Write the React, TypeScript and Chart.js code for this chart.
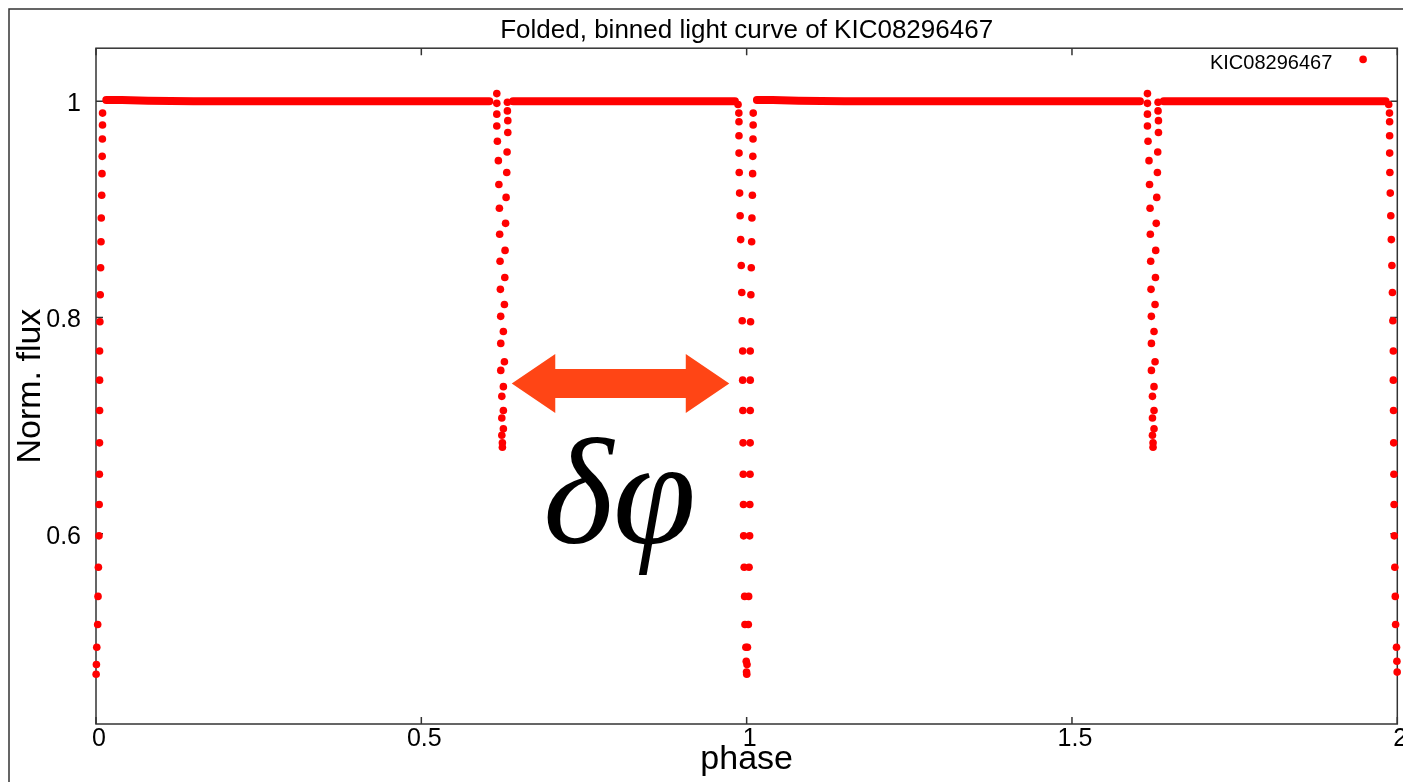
import React, { useEffect, useRef } from 'react';
import { Chart, registerables } from 'chart.js';

Chart.register(...registerables);

const FONT = '"Liberation Sans", Arial, Helvetica, sans-serif';

// ---- text ----
const chartTitle = 'Folded, binned light curve of KIC08296467';
const seriesName = 'KIC08296467';
const xTitle = 'phase';
const yTitle = 'Norm. flux';
const symbolText = 'δφ';

// ---- axes ----
const xTicks = [0, 0.5, 1, 1.5, 2];
const yTicks = [0.6, 0.8, 1];
const xRange = [0, 2];
const yRange = [0.424, 1.049];

// the folded cycle is shown twice: phase and phase + 1
const cycles = [0, 1];

// out-of-eclipse bins (very dense, they merge into a continuous band)
const baselinePhaseA = [0.0158, 0.04, 0.08, 0.15, 0.25, 0.35, 0.45, 0.55, 0.6045];
const baselineFluxA = [1.001, 1.001, 1.0005, 1.0, 1.0, 1.0, 1.0, 1.0, 1.0];
const baselinePhaseB = [0.641, 0.7, 0.8, 0.9, 0.95, 0.982];
const baselineFluxB = [1.0, 1.0, 1.0, 1.0, 1.0, 1.0];

// primary eclipse, egress (just after phase 0)
const primaryEgressPhase = [0.0101, 0.01, 0.0098, 0.0095, 0.0092, 0.0088, 0.0081, 0.0077, 0.0071, 0.0065, 0.006, 0.0055, 0.0055, 0.0055, 0.0054, 0.0052, 0.0049, 0.0046, 0.0037, 0.0031, 0.0026, 0.0012, 0.0006, 0.0002];
const primaryEgressFlux = [0.989, 0.978, 0.965, 0.949, 0.933, 0.913, 0.892, 0.87, 0.846, 0.821, 0.796, 0.769, 0.742, 0.714, 0.684, 0.655, 0.627, 0.598, 0.569, 0.542, 0.516, 0.495, 0.479, 0.47];

// secondary eclipse
const secondaryIngressPhase = [0.616, 0.616, 0.616, 0.616, 0.6169, 0.6184, 0.6192, 0.62, 0.6204, 0.621, 0.6215, 0.622, 0.6221, 0.6221, 0.6237, 0.6237, 0.6237, 0.6246];
const secondaryIngressFlux = [1.007, 0.998, 0.988, 0.977, 0.963, 0.945, 0.923, 0.901, 0.877, 0.852, 0.826, 0.801, 0.776, 0.751, 0.727, 0.707, 0.691, 0.68];
const secondaryEgressPhase = [0.6323, 0.6323, 0.6329, 0.6329, 0.6318, 0.6313, 0.6303, 0.6295, 0.6287, 0.6283, 0.6277, 0.6261, 0.6277, 0.6261, 0.6261, 0.6261, 0.6246];
const secondaryEgressFlux = [0.999, 0.991, 0.982, 0.971, 0.953, 0.934, 0.911, 0.887, 0.862, 0.837, 0.812, 0.787, 0.759, 0.736, 0.714, 0.697, 0.684];

// primary eclipse, ingress (just before phase 1)
const primaryIngressPhase = [0.9868, 0.988, 0.9882, 0.9882, 0.9883, 0.9886, 0.9892, 0.99, 0.9908, 0.9917, 0.9925, 0.9932, 0.9939, 0.9939, 0.9942, 0.9945, 0.9948, 0.9951, 0.9954, 0.9962, 0.9969, 0.9974, 0.9988, 0.9994, 0.9998];
const primaryIngressFlux = [0.997, 0.989, 0.981, 0.968, 0.952, 0.934, 0.915, 0.894, 0.872, 0.848, 0.823, 0.797, 0.769, 0.742, 0.714, 0.684, 0.655, 0.627, 0.598, 0.569, 0.542, 0.516, 0.495, 0.482, 0.472];

// annotation: double arrow and δφ label (data units)
const arrowFromPhase = 0.639;
const arrowToPhase = 0.9733;
const arrowFlux = 0.739;
const symbolPhase = 0.8046;
const symbolFlux = 0.5917;

const RED = '#ff0000';
const ARROW = '#ff4515';
const FRAME = '#333333';

type Pt = { x: number; y: number | null };

function foldedPoints(phase: number[], flux: number[]): Pt[] {
  const pts: Pt[] = [];
  for (const c of cycles) {
    for (let i = 0; i < phase.length; i++) pts.push({ x: phase[i] + c, y: flux[i] });
  }
  return pts;
}

function baselinePoints(): Pt[] {
  const pts: Pt[] = [];
  for (const c of cycles) {
    for (let i = 0; i < baselinePhaseA.length; i++) pts.push({ x: baselinePhaseA[i] + c, y: baselineFluxA[i] });
    pts.push({ x: 0.62 + c, y: null });
    for (let i = 0; i < baselinePhaseB.length; i++) pts.push({ x: baselinePhaseB[i] + c, y: baselineFluxB[i] });
    pts.push({ x: 0.99 + c, y: null });
  }
  return pts;
}

const framePlugin = {
  id: 'gnuplotFrame',
  beforeDatasetsDraw(chart: any) {
    const { ctx, chartArea } = chart;
    const { left, right, top, bottom } = chartArea;
    const xs = chart.scales.x;
    const ys = chart.scales.y;
    ctx.save();
    ctx.strokeStyle = FRAME;
    ctx.lineWidth = 1.5;
    // outer figure border (left and top edges visible)
    ctx.beginPath();
    ctx.moveTo(9, chart.height);
    ctx.lineTo(9, 9);
    ctx.lineTo(chart.width, 9);
    ctx.stroke();
    // plot border
    ctx.strokeRect(left, top, right - left, bottom - top);
    // inward ticks, mirrored
    ctx.beginPath();
    for (const v of xTicks) {
      const px = xs.getPixelForValue(v);
      ctx.moveTo(px, bottom);
      ctx.lineTo(px, bottom - 7);
      ctx.moveTo(px, top);
      ctx.lineTo(px, top + 7);
    }
    for (const v of yTicks) {
      const py = ys.getPixelForValue(v);
      ctx.moveTo(left, py);
      ctx.lineTo(left + 7, py);
      ctx.moveTo(right, py);
      ctx.lineTo(right - 7, py);
    }
    ctx.stroke();
    ctx.restore();
  },
};

const annotationPlugin = {
  id: 'annotations',
  afterDatasetsDraw(chart: any) {
    const { ctx, chartArea } = chart;
    const xs = chart.scales.x;
    const ys = chart.scales.y;
    ctx.save();
    // double arrow
    const xa = xs.getPixelForValue(arrowFromPhase);
    const xb = xs.getPixelForValue(arrowToPhase);
    const ya = ys.getPixelForValue(arrowFlux);
    const headLen = 43.5;
    const headHalf = 29.5;
    const shaftHalf = 14.5;
    ctx.fillStyle = ARROW;
    ctx.beginPath();
    ctx.moveTo(xa, ya);
    ctx.lineTo(xa + headLen, ya - headHalf);
    ctx.lineTo(xa + headLen, ya - shaftHalf);
    ctx.lineTo(xb - headLen, ya - shaftHalf);
    ctx.lineTo(xb - headLen, ya - headHalf);
    ctx.lineTo(xb, ya);
    ctx.lineTo(xb - headLen, ya + headHalf);
    ctx.lineTo(xb - headLen, ya + shaftHalf);
    ctx.lineTo(xa + headLen, ya + shaftHalf);
    ctx.lineTo(xa + headLen, ya + headHalf);
    ctx.closePath();
    ctx.fill();

    // δφ label
    ctx.fillStyle = '#000';
    ctx.font = 'italic 150px "Liberation Serif", "DejaVu Serif", serif';
    ctx.textAlign = 'center';
    ctx.textBaseline = 'alphabetic';
    ctx.fillText(symbolText, xs.getPixelForValue(symbolPhase), ys.getPixelForValue(symbolFlux));

    // key (gnuplot style: text then sample point)
    ctx.font = '20px ' + FONT;
    ctx.textAlign = 'right';
    ctx.fillText(seriesName, chartArea.right - 65, chartArea.top + 20.3);
    ctx.fillStyle = RED;
    ctx.beginPath();
    ctx.arc(chartArea.right - 34.2, chartArea.top + 11.2, 3.8, 0, Math.PI * 2);
    ctx.fill();
    ctx.restore();
  },
};

export default function App() {
  const ref = useRef<HTMLCanvasElement>(null);

  useEffect(() => {
    if (!ref.current) return;
    const pointStyle = {
      type: 'scatter' as const,
      pointRadius: 3.8,
      pointHoverRadius: 3.8,
      pointBorderWidth: 0,
      backgroundColor: RED,
      borderColor: RED,
      showLine: false,
      clip: false as any,
    };
    const chart = new Chart(ref.current, {
      type: 'scatter',
      data: {
        datasets: [
          {
            label: seriesName + ' (out of eclipse)',
            data: baselinePoints() as any,
            showLine: true,
            spanGaps: false,
            borderColor: RED,
            backgroundColor: RED,
            borderWidth: 8,
            borderCapStyle: 'round',
            borderJoinStyle: 'round',
            pointRadius: 0,
            tension: 0,
            clip: false as any,
          },
          { ...pointStyle, label: seriesName + ' primary egress', data: foldedPoints(primaryEgressPhase, primaryEgressFlux) as any },
          { ...pointStyle, label: seriesName + ' secondary ingress', data: foldedPoints(secondaryIngressPhase, secondaryIngressFlux) as any },
          { ...pointStyle, label: seriesName + ' secondary egress', data: foldedPoints(secondaryEgressPhase, secondaryEgressFlux) as any },
          { ...pointStyle, label: seriesName + ' primary ingress', data: foldedPoints(primaryIngressPhase, primaryIngressFlux) as any },
        ],
      },
      options: {
        responsive: false,
        maintainAspectRatio: false,
        animation: false,
        devicePixelRatio: 1,
        events: [],
        layout: { padding: { left: 0, right: 5.7, top: 0, bottom: 0 } },
        plugins: {
          legend: { display: false },
          tooltip: { enabled: false },
          title: {
            display: true,
            text: chartTitle,
            fullSize: false,
            color: '#000',
            font: { family: FONT, size: 26, weight: 'normal', lineHeight: 1.2 },
            padding: { top: 15.4, bottom: 1.6 },
          },
        },
        scales: {
          x: {
            type: 'linear',
            min: xRange[0],
            max: xRange[1],
            afterBuildTicks: (s: any) => {
              s.ticks = xTicks.map((v) => ({ value: v }));
            },
            afterFit: (s: any) => {
              s.height = 58;
              s.paddingLeft = 0;
              s.paddingRight = 0;
            },
            grid: { display: false, drawTicks: false },
            border: { display: false },
            ticks: {
              autoSkip: false,
              maxRotation: 0,
              padding: 0,
              labelOffset: 3,
              color: '#000',
              font: { family: FONT, size: 25 },
              callback: (v: any) => String(v),
            },
            title: {
              display: true,
              text: xTitle,
              color: '#000',
              font: { family: FONT, size: 34, lineHeight: 1.2 },
              padding: { top: 0, bottom: 2 },
            },
          },
          y: {
            type: 'linear',
            min: yRange[0],
            max: yRange[1],
            afterBuildTicks: (s: any) => {
              s.ticks = yTicks.map((v) => ({ value: v }));
            },
            afterFit: (s: any) => {
              s.width = 96;
              s.paddingTop = 0;
              s.paddingBottom = 0;
            },
            grid: { display: false, drawTicks: false },
            border: { display: false },
            ticks: {
              autoSkip: false,
              padding: 15,
              labelOffset: 3,
              color: '#000',
              font: { family: FONT, size: 25 },
              callback: (v: any) => String(v),
            },
            title: {
              display: true,
              text: yTitle,
              color: '#000',
              font: { family: FONT, size: 34, lineHeight: 1.2 },
              padding: { top: 10, bottom: 0 },
            },
          },
        },
      } as any,
      plugins: [framePlugin, annotationPlugin],
    });
    return () => chart.destroy();
  }, []);

  return (
    <div style={{ position: 'fixed', left: 0, top: 0, width: 1403, height: 782, background: '#fff', overflow: 'hidden' }}>
      <canvas ref={ref} width={1403} height={782} style={{ display: 'block', width: 1403, height: 782 }} />
    </div>
  );
}
